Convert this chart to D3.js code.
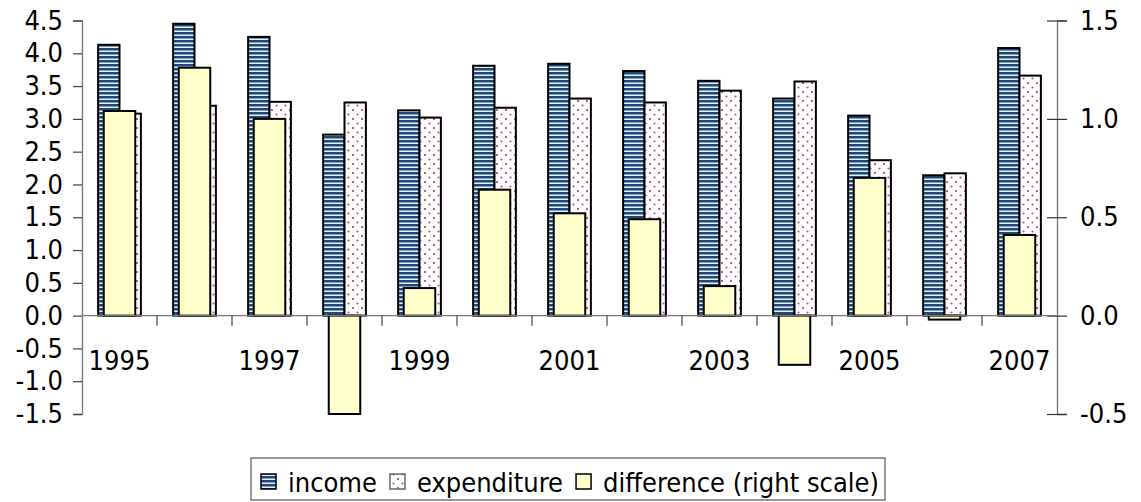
<!DOCTYPE html>
<html>
<head>
<meta charset="utf-8">
<script src="https://cdn.jsdelivr.net/npm/d3@7"></script>
<style>
  html, body { margin: 0; padding: 0; background: #fff; }
  svg { display: block; }
  text { font-family: "DejaVu Sans Condensed", "DejaVu Sans", sans-serif; font-stretch: condensed; fill: #000; }
</style>
</head>
<body>
<svg id="chart" width="1141" height="502"></svg>
<script>
// Budget data by year (left scale: income, expenditure; right scale: difference)
const years = ["1995","1996","1997","1998","1999","2000","2001","2002","2003","2004","2005","2006","2007"];
const income      = [4.13, 4.45, 4.25, 2.76, 3.13, 3.81, 3.84, 3.73, 3.58, 3.31, 3.05, 2.14, 4.08];
const expenditure = [3.08, 3.20, 3.26, 3.25, 3.02, 3.17, 3.31, 3.25, 3.43, 3.57, 2.37, 2.17, 3.66];
const difference  = [1.04, 1.26, 1.00, -0.50, 0.14, 0.64, 0.52, 0.49, 0.15, -0.25, 0.70, -0.02, 0.41];
const seriesNames = ["income", "expenditure", "difference (right scale)"];
const leftTicks  = [-1.5, -1.0, -0.5, 0.0, 0.5, 1.0, 1.5, 2.0, 2.5, 3.0, 3.5, 4.0, 4.5];
const rightTicks = [-0.5, 0.0, 0.5, 1.0, 1.5];
const xLabelYears = ["1995","1997","1999","2001","2003","2005","2007"];

const svg = d3.select("#chart");
const plotLeft = 82, plotRight = 1057, plotTop = 20.5, plotBottom = 414;
const FS = 27;

// fill patterns
const defs = svg.append("defs");
const stripes = defs.append("pattern").attr("id", "stripes")
  .attr("patternUnits", "userSpaceOnUse").attr("width", 6).attr("height", 4);
stripes.append("rect").attr("width", 6).attr("height", 4).attr("fill", "#e9eff6");
stripes.append("rect").attr("y", 0).attr("width", 6).attr("height", 2).attr("fill", "#1f4a78");
stripes.append("rect").attr("y", 2).attr("width", 6).attr("height", 1).attr("fill", "#7d9cbf");

const dots = defs.append("pattern").attr("id", "dots")
  .attr("patternUnits", "userSpaceOnUse").attr("width", 9).attr("height", 9);
dots.append("rect").attr("width", 9).attr("height", 9).attr("fill", "#fff");
dots.append("circle").attr("cx", 2).attr("cy", 2).attr("r", 1.1).attr("fill", "#a8397a");
dots.append("circle").attr("cx", 6.5).attr("cy", 6.5).attr("r", 1.1).attr("fill", "#b8578f");

// scales
const xCat = d3.scaleBand().domain(years).range([plotLeft, plotRight]).padding(0);
const xPair = d3.scaleBand().domain(years).range([plotLeft, plotRight]).paddingInner(0.43).paddingOuter(0.215);
const xSub = d3.scaleBand().domain(["income", "expenditure"]).range([0, xPair.bandwidth()]);
const xDiff = d3.scaleBand().domain(years).range([plotLeft, plotRight]).paddingInner(0.58).paddingOuter(0.29);
const yL = d3.scaleLinear().domain([-1.5, 4.5]).range([plotBottom, plotTop]);
const yR = d3.scaleLinear().domain([-0.5, 1.5]).range([plotBottom, plotTop]);

const fmt = v => v.toFixed(1);

// primary bars
const primary = [
  { key: "income", values: income, fill: "url(#stripes)" },
  { key: "expenditure", values: expenditure, fill: "url(#dots)" }
];
primary.forEach(s => {
  svg.append("g").selectAll("rect").data(s.values).join("rect")
    .attr("x", (d, i) => xPair(years[i]) + xSub(s.key))
    .attr("width", xSub.bandwidth())
    .attr("y", d => yL(Math.max(0, d)))
    .attr("height", d => Math.abs(yL(d) - yL(0)))
    .attr("fill", s.fill)
    .attr("stroke", "#000").attr("stroke-width", 2);
});

// secondary bars
svg.append("g").selectAll("rect").data(difference).join("rect")
  .attr("x", (d, i) => xDiff(years[i]))
  .attr("width", xDiff.bandwidth())
  .attr("y", d => yR(Math.max(0, d)))
  .attr("height", d => Math.abs(yR(d) - yR(0)))
  .attr("fill", "#ffffcc")
  .attr("stroke", "#000").attr("stroke-width", 2);

// left axis
const gL = svg.append("g").attr("transform", `translate(${plotLeft},0)`)
  .call(d3.axisLeft(yL).tickValues(leftTicks).tickFormat(fmt).tickSizeOuter(0).tickSize(9).tickPadding(10));
gL.select(".domain").attr("stroke", "#777").attr("stroke-width", 1.3);
gL.selectAll(".tick line").attr("stroke", "#444").attr("stroke-width", 1.2);
gL.selectAll(".tick text").style("font-size", FS + "px").attr("font-family", null);

// right axis with crossing ticks
const gR = svg.append("g").attr("transform", `translate(${plotRight},0)`)
  .call(d3.axisRight(yR).tickValues(rightTicks).tickFormat(fmt).tickSizeOuter(0).tickSize(10).tickPadding(13));
gR.select(".domain").attr("stroke", "#777").attr("stroke-width", 1.3);
gR.selectAll(".tick line").attr("x1", -10).attr("x2", 10).attr("stroke", "#333").attr("stroke-width", 1.2);
gR.selectAll(".tick text").style("font-size", FS + "px").attr("font-family", null);

// category axis on the zero line
const y0 = yL(0);
svg.append("line").attr("x1", plotLeft).attr("x2", plotRight).attr("y1", y0).attr("y2", y0)
  .attr("stroke", "#777").attr("stroke-width", 1.3);
svg.append("g").selectAll("line").data(years.slice(1)).join("line")
  .attr("x1", d => xCat(d)).attr("x2", d => xCat(d))
  .attr("y1", y0).attr("y2", y0 + 10)
  .attr("stroke", "#444").attr("stroke-width", 1.2);
svg.append("g").selectAll("text").data(xLabelYears).join("text")
  .attr("x", d => xCat(d) + xCat.bandwidth() / 2)
  .attr("y", 370)
  .attr("text-anchor", "middle")
  .style("font-size", FS + "px")
  .text(d => d);

// legend
const lg = svg.append("g");
lg.append("rect").attr("x", 251).attr("y", 458).attr("width", 634).attr("height", 42)
  .attr("fill", "#fff").attr("stroke", "#555").attr("stroke-width", 1.2);
const swFills = ["url(#stripes)", "url(#dots)", "#ffffcc"];
const swStroke = ["#000", "#666", "#000"];
let lx = 261;
seriesNames.forEach((name, i) => {
  lg.append("rect").attr("x", lx).attr("y", 474).attr("width", 15).attr("height", 15)
    .attr("fill", swFills[i]).attr("stroke", swStroke[i]).attr("stroke-width", 1.5);
  const t = lg.append("text").attr("x", lx + 27).attr("y", 492)
    .style("font-size", FS + "px").text(name);
  lx += 27 + t.node().getComputedTextLength() + 13;
});
</script>
</body>
</html>
